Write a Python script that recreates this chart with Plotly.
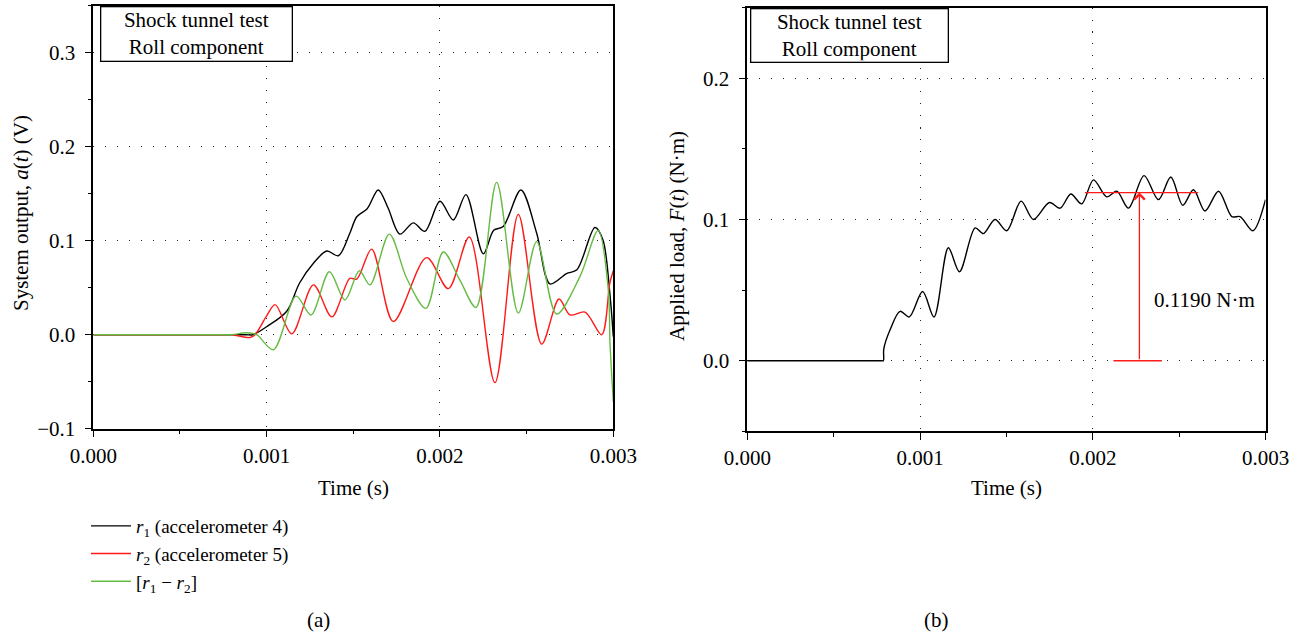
import plotly.graph_objects as go

# ---------------- data ----------------
# (a) system output, accelerometers, time in s, value in V
r1_t = [0, 0.0004, 0.00088, 0.00092, 0.00100, 0.001116, 0.00119, 0.00127, 0.001347, 0.001414, 0.00148,
        0.00152, 0.00158, 0.001644, 0.00170, 0.001769, 0.001846, 0.001913, 0.002, 0.002077,
        0.00215, 0.00225, 0.00231, 0.002365, 0.002467, 0.002558, 0.002635, 0.00273,
        0.00279, 0.002894, 0.00294, 0.00298, 0.003]
r1_v = [0, 0, 0, 0, 0.0085, 0.025, 0.055, 0.076, 0.089, 0.084, 0.108,
        0.1255, 0.134, 0.154, 0.135, 0.107, 0.119, 0.110, 0.142, 0.122,
        0.149, 0.086, 0.111, 0.115, 0.154, 0.108, 0.054, 0.065,
        0.069, 0.114, 0.101, 0.044, -0.002]

r2_t = [0, 0.0004, 0.00075, 0.00080, 0.000904, 0.000933, 0.00100, 0.001049, 0.001145, 0.00127, 0.001376,
        0.00148, 0.00152, 0.001606, 0.001731, 0.001923, 0.002048, 0.002169, 0.002317,
        0.002452, 0.002587, 0.002687, 0.00275, 0.002837, 0.002933, 0.00298, 0.003]
r2_v = [0, 0, 0, 0, -0.003, 0.0, 0.020, 0.032, 0.001, 0.053, 0.019,
        0.060, 0.059, 0.091, 0.014, 0.082, 0.049, 0.104, -0.051,
        0.128, -0.010, 0.038, 0.021, 0.024, 0.000, 0.055, 0.068]

d_t = [0, 0.0004, 0.00075, 0.00080, 0.000885, 0.000942, 0.001039, 0.00117, 0.001256, 0.001362, 0.001452,
       0.001535, 0.001596, 0.001708, 0.001808, 0.001919, 0.002019, 0.002115, 0.002208,
       0.002327, 0.002452, 0.002558, 0.002673, 0.002808, 0.002913, 0.002971, 0.002981, 0.003]
d_v = [0, 0, 0, 0, 0.002, 0.0, -0.016, 0.041, 0.021, 0.067, 0.037,
       0.068, 0.053, 0.107, 0.060, 0.028, 0.088, 0.058, 0.029,
       0.162, 0.023, 0.099, 0.022, 0.062, 0.111, 0.048, -0.009, -0.071]

# (b) applied load, N·m
f_t = [0, 0.0004, 0.00078, 0.000788, 0.000790, 0.000826, 0.000884, 0.000938, 0.001015, 0.001081, 0.001164,
       0.001228, 0.001319, 0.001367, 0.001434, 0.001502, 0.001585, 0.001656, 0.001749,
       0.001811, 0.001873, 0.001936, 0.002004, 0.002081, 0.002139, 0.002207, 0.002297,
       0.00238, 0.002452, 0.002521, 0.002583, 0.00265, 0.002728, 0.002805, 0.002853,
       0.002927, 0.003]
f_v = [0, 0, 0, 0, 0.0083, 0.0217, 0.035, 0.031, 0.049, 0.031, 0.080,
       0.063, 0.094, 0.090, 0.100, 0.092, 0.113, 0.100, 0.112,
       0.108, 0.118, 0.111, 0.128, 0.116, 0.120, 0.108, 0.131,
       0.114, 0.130, 0.110, 0.121, 0.106, 0.120, 0.102, 0.102,
       0.092, 0.114]

mean_level = 0.1190
mean_span_t = [0.001955, 0.00261]
marker_t = 0.00227
base_span_t = [0.00212, 0.00240]
label_text = "0.1190 N·m"

x_ticks = [0, 0.001, 0.002, 0.003]
x_ticklabels = ["0.000", "0.001", "0.002", "0.003"]

# ---------------- styling ----------------
FONT = "Liberation Serif"
FS = 21
BLACK = "#000000"
RED = "#ff1a1a"
GREEN = "#66bb44"
W, H = 1299, 637

fig = go.Figure()

LS = dict(width=1.4, shape="spline", smoothing=0.9)
fig.add_trace(go.Scatter(x=r1_t, y=r1_v, mode="lines", line=dict(color=BLACK, **LS),
                         name="<i>r</i><sub>1</sub> (accelerometer 4)", xaxis="x", yaxis="y"))
fig.add_trace(go.Scatter(x=r2_t, y=r2_v, mode="lines", line=dict(color=RED, **LS),
                         name="<i>r</i><sub>2</sub> (accelerometer 5)", xaxis="x", yaxis="y"))
fig.add_trace(go.Scatter(x=d_t, y=d_v, mode="lines", line=dict(color=GREEN, **LS),
                         name="[<i>r</i><sub>1</sub> − <i>r</i><sub>2</sub>]", xaxis="x", yaxis="y"))

fig.add_trace(go.Scatter(x=f_t, y=f_v, mode="lines", line=dict(color=BLACK, **LS),
                         showlegend=False, xaxis="x2", yaxis="y2"))
fig.add_trace(go.Scatter(x=mean_span_t, y=[mean_level, mean_level], mode="lines",
                         line=dict(color=RED, width=1.4), showlegend=False, xaxis="x2", yaxis="y2"))
fig.add_trace(go.Scatter(x=base_span_t, y=[0, 0], mode="lines",
                         line=dict(color=RED, width=1.4), showlegend=False, xaxis="x2", yaxis="y2"))

def px_x(p):
    return p / W

def px_y(p):
    return 1 - p / H

grid = dict(showgrid=True, gridcolor="#222222", gridwidth=1, griddash="1px,11px")
common_axis = dict(showline=True, linecolor=BLACK, linewidth=1.5, mirror=True, zeroline=False,
                   automargin=False,
                   ticks="outside", ticklen=7, tickwidth=1.3, tickcolor=BLACK,
                   tickfont=dict(family=FONT, size=FS, color=BLACK), **grid)

xa = dict(range=[0, 0.003], tickvals=x_ticks, ticktext=x_ticklabels,
          minor=dict(dtick=0.0005, ticks="outside", ticklen=4, tickcolor=BLACK, showgrid=False), **common_axis)

ya_minor = dict(dtick=0.05, ticks="outside", ticklen=4, tickcolor=BLACK, showgrid=False)

fig.update_layout(
    width=W, height=H,
    autosize=False,
    margin=dict(l=0, r=0, t=0, b=0, pad=0, autoexpand=False),
    paper_bgcolor="white", plot_bgcolor="white",
    font=dict(family=FONT, size=FS, color=BLACK),
    xaxis=dict(domain=[px_x(93.3), px_x(613.3)], anchor="y", **xa),
    yaxis=dict(domain=[px_y(428.7), px_y(5.7)], anchor="x", range=[-0.1, 0.35], dtick=0.1, tick0=0,
               tickformat=".1f", ticklabelstandoff=5, minor=ya_minor, **common_axis),
    xaxis2=dict(domain=[px_x(747.3), px_x(1265.5)], anchor="y2", **xa),
    yaxis2=dict(domain=[px_y(431.4), px_y(7.5)], anchor="x2", range=[-0.05, 0.25], dtick=0.1, tick0=0,
                tickformat=".1f", ticklabelstandoff=5, minor=ya_minor, **common_axis),
    showlegend=True,
    legend=dict(x=px_x(86), y=px_y(507), xanchor="left", yanchor="top",
                bgcolor="rgba(0,0,0,0)", font=dict(family=FONT, size=19, color=BLACK),
                tracegroupgap=0, itemwidth=40),
)

ann = []
def txt(x, y, s, **kw):
    d = dict(xref="paper", yref="paper", x=px_x(x), y=px_y(y), text=s, showarrow=False,
             xanchor="center", yanchor="middle", font=dict(family=FONT, size=FS, color=BLACK))
    d.update(kw)
    ann.append(d)

# text boxes
txt(100, 6, "Shock tunnel test<br>Roll component", xanchor="left", yanchor="top", align="center",
    bordercolor=BLACK, borderwidth=1.3, borderpad=1, width=188, height=51, bgcolor="white")
txt(750, 8, "Shock tunnel test<br>Roll component", xanchor="left", yanchor="top", align="center",
    bordercolor=BLACK, borderwidth=1.3, borderpad=1, width=194, height=50, bgcolor="white")
# axis titles
txt(21, 213, "System output, <i>a</i>(<i>t</i>) (V)", textangle=-90)
txt(677, 236, "Applied load, <i>F</i>(<i>t</i>) (N·m)", textangle=-90)
txt(353, 488, "Time (s)")
txt(1006, 488, "Time (s)")
txt(318, 620, "(a)")
txt(936, 620, "(b)")
# arrow and label in (b)
ann.append(dict(xref="x2", yref="y2", axref="x2", ayref="y2", x=marker_t, y=mean_level,
                ax=marker_t, ay=0, text="", showarrow=True, arrowhead=4, arrowsize=1.6,
                arrowwidth=1.3, arrowcolor=RED))
ann.append(dict(xref="x2", yref="y2", x=0.00234, y=0.043, xanchor="left", yanchor="middle", text=label_text,
                showarrow=False, font=dict(family=FONT, size=FS, color=BLACK)))
fig.update_layout(annotations=ann)

fig.write_html("out.html")
